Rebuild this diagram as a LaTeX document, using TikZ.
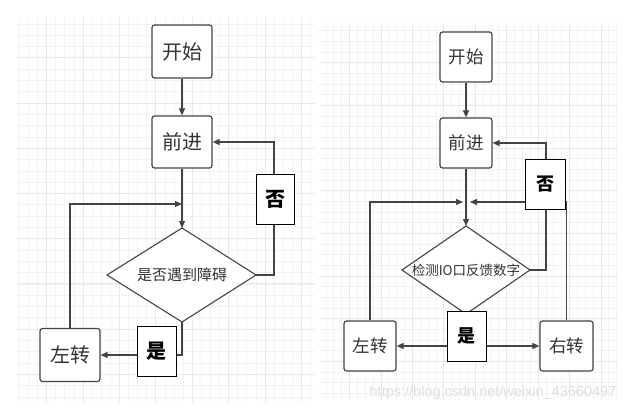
\documentclass[tikz,border=0pt]{standalone}
\usepackage{fontspec}
\setmainfont{Liberation Sans}
\newfontfamily\cjk{Noto Sans CJK SC}
\usetikzlibrary{shapes.geometric,arrows.meta,calc}
\definecolor{gminor}{HTML}{F3F3F3}
\definecolor{gmajor}{HTML}{E8E8E8}
\definecolor{edge}{HTML}{444444}
\definecolor{txt}{HTML}{333333}
\tikzset{
  gmin/.style={draw=gminor,line width=0.8pt},
  gmaj/.style={draw=gmajor,line width=0.9pt},
  procbox/.style={draw=edge,line width=1.2pt,rounded corners=2.5pt,fill=white,
    inner sep=0pt,text=txt,font=\cjk\fontsize{20}{20}\selectfont},
  smallbox/.style={procbox,font=\cjk\fontsize{17.5}{18}\selectfont},
  decision/.style={draw=edge,line width=1.1pt,fill=white,line join=miter},
  dtext/.style={inner sep=0pt,text=txt,font=\cjk\fontsize{15}{15}\selectfont},
  labelbox/.style={draw=black,line width=1pt,fill=white,inner sep=0pt,
    minimum width=39pt,minimum height=50pt,font=\cjk\bfseries\fontsize{20}{20}\selectfont},
  conn/.style={draw=edge,line width=1.1pt},
  arr/.style={conn,-{Triangle[length=7pt,width=6pt]}},
}
\begin{document}
\begin{tikzpicture}[x=1pt,y=-1pt]
\useasboundingbox (0,0) rectangle (638,412);
\fill[white] (0,0) rectangle (638,412);
% left grid
\foreach \i in {0,...,32} \draw[gmin] (19.3+\i*9.1,17) -- (19.3+\i*9.1,402);
\foreach \j in {0,...,33} \draw[gmin] (17,24+\j*11.3) -- (315,24+\j*11.3);
\foreach \i in {3,7,...,31} \draw[gmaj] (19.3+\i*9.1,17) -- (19.3+\i*9.1,402);
\foreach \j in {3,7,...,31} \draw[gmaj] (17,24+\j*11.3) -- (315,24+\j*11.3);
% right grid
\foreach \i in {0,...,37} \draw[gmin] (326+\i*7.857,23) -- (326+\i*7.857,400);
\foreach \j in {0,...,34} \draw[gmin] (320,30.7+\j*10.67) -- (618,30.7+\j*10.67);
\foreach \i in {3,7,...,35} \draw[gmaj] (326+\i*7.857,23) -- (326+\i*7.857,400);
\foreach \j in {3,7,...,31} \draw[gmaj] (320,30.7+\j*10.67) -- (618,30.7+\j*10.67);

% ---------- left flowchart ----------
\node[procbox,minimum width=60pt,minimum height=53pt] (s1) at (182,51.5) {开始};
\node[procbox,minimum width=60pt,minimum height=52pt] (f1) at (182,142) {前进};
\coordinate (d1n) at (182,228);
\coordinate (d1s) at (182,322);
\coordinate (d1e) at (256,275);
\coordinate (d1w) at (107,275);
\draw[decision] (d1n) -- (d1e) -- (d1s) -- (d1w) -- cycle;
\node[dtext] (d1) at (182,275) {是否遇到障碍};
\node[procbox,minimum width=60pt,minimum height=53pt] (l1) at (70,355) {左转};
\coordinate (m1) at (182,204);
\draw[arr] (s1) -- (f1);
\draw[arr] (f1) -- (d1n);
\draw[arr] (l1.north) |- (m1);
\draw[arr] (d1s) |- (l1.east);
\node[labelbox] (yes1) at (156.5,351.5) {是};
\draw[arr] (d1e) -- ($(d1e)+(18,0)$) |- (f1.east);
\node[labelbox,minimum width=38pt] (no1) at (275,199) {否};

% ---------- right flowchart ----------
\node[smallbox,minimum width=52pt,minimum height=50pt] (s2) at (466,57) {开始};
\node[smallbox,minimum width=52pt,minimum height=50pt] (f2) at (466,143) {前进};
\coordinate (d2n) at (466,226);
\coordinate (d2s) at (466,314);
\coordinate (d2e) at (530,270);
\coordinate (d2w) at (402,270);
\draw[decision] (d2n) -- (d2e) -- (d2s) -- (d2w) -- cycle;
\node[dtext,font=\cjk\fontsize{13.5}{14}\selectfont] (d2) at (466,270) {检测IO口反馈数字};
\node[smallbox,minimum width=52pt,minimum height=50pt] (l2) at (370,346) {左转};
\node[smallbox,minimum width=53pt,minimum height=50pt] (r2) at (566.5,346) {右转};
\coordinate (ml) at (463,202);
\coordinate (mr) at (470,202);
\draw[arr] (s2) -- (f2);
\draw[arr] (f2) -- (d2n);
\draw[arr] (l2.north) |- (ml);
\draw[arr] (r2.north) |- (mr);
\draw[arr] (d2e) -- ($(d2e)+(16,0)$) |- (f2.east);
\node[labelbox,minimum width=40pt,font=\cjk\bfseries\fontsize{18}{18}\selectfont] (no2) at (545,184) {否};
\node[labelbox,minimum width=39pt,font=\cjk\bfseries\fontsize{18}{18}\selectfont] (yes2) at (466.5,336) {是};
\draw[arr] (yes2.west |- l2.east) -- (l2.east);
\draw[arr] (yes2.east |- r2.west) -- (r2.west);

% watermark
\node[text=black!13,font=\fontsize{14.5}{15}\selectfont,inner sep=0pt] (wm) at (493,393) {https://blog.csdn.net/weixin\_43660497};
\end{tikzpicture}
\end{document}
